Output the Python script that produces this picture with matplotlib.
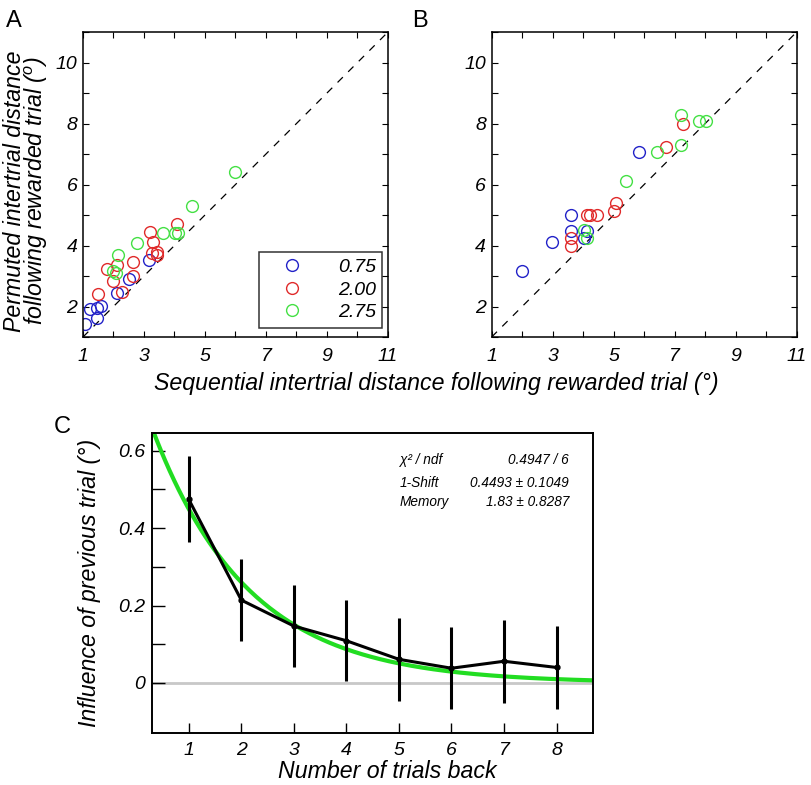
import numpy as np
import matplotlib.pyplot as plt
from matplotlib.ticker import MultipleLocator, FixedLocator

plt.rcParams['font.family'] = ['Liberation Sans', 'DejaVu Sans']
plt.rcParams['font.style'] = 'italic'
plt.rcParams['mathtext.fontset'] = 'custom'
plt.rcParams['mathtext.it'] = 'Liberation Sans:italic'
plt.rcParams['mathtext.rm'] = 'Liberation Sans:italic'

# panel A: sequential vs permuted distance, per group
a_blue_x = [1.07, 1.23, 1.47, 1.45, 1.59, 2.12, 2.51, 3.17]
a_blue_y = [1.43, 1.91, 1.63, 1.94, 2.02, 2.43, 2.90, 3.52]
a_red_x = [1.50, 1.78, 1.99, 2.12, 2.27, 2.63, 2.63, 3.20, 3.31, 3.25, 3.42, 3.44, 4.07]
a_red_y = [2.41, 3.23, 2.84, 3.36, 2.48, 3.47, 3.00, 4.43, 4.12, 3.74, 3.80, 3.69, 4.70]
a_green_x = [2.16, 1.99, 2.07, 2.76, 3.63, 4.02, 4.12, 4.58, 5.98]
a_green_y = [3.69, 3.16, 3.09, 4.07, 4.42, 4.40, 4.40, 5.30, 6.42]

# panel B
b_blue_x = [2.00, 2.99, 3.59, 3.59, 4.02, 4.12, 5.82]
b_blue_y = [3.16, 4.13, 5.01, 4.49, 4.25, 4.49, 7.08]
b_red_x = [3.59, 3.59, 4.12, 4.24, 4.46, 5.00, 5.08, 6.72, 7.28]
b_red_y = [4.25, 4.00, 5.01, 5.01, 5.01, 5.12, 5.41, 7.22, 8.00]
b_green_x = [4.02, 4.12, 5.39, 6.41, 7.21, 7.21, 7.81, 8.03]
b_green_y = [4.50, 4.25, 6.10, 7.08, 7.30, 8.28, 8.09, 8.09]

group_labels = ['0.75', '2.00', '2.75']
group_colors = ['#2222c8', '#e02a2a', '#44e044']

# panel C: influence of previous trials
trials_back = [1, 2, 3, 4, 5, 6, 7, 8]
influence = [0.474, 0.214, 0.147, 0.109, 0.061, 0.038, 0.056, 0.040]
influence_err = [0.111, 0.106, 0.105, 0.105, 0.107, 0.106, 0.107, 0.107]
fit_shift = 0.4493
fit_memory = 1.83
fit_text = [('χ² / ndf', '0.4947 / 6'),
            ('1-Shift', '0.4493 ± 0.1049'),
            ('Memory', '1.83 ± 0.8287')]

LABEL_SIZE = 16.7
TICK_SIZE = 14


def scatter_panel(ax, xs, ys, with_legend=False):
    ax.plot([1, 11], [1, 11], color='black', lw=0.9, dashes=(6, 6))
    for x, y, c, lab in zip(xs, ys, group_colors, group_labels):
        ax.plot(x, y, 'o', ms=8.5, mfc='none', mec=c, mew=1.0, ls='none', label=lab)
    ax.set_xlim(1, 11)
    ax.set_ylim(1, 11)
    ax.xaxis.set_major_locator(FixedLocator([1, 3, 5, 7, 9, 11]))
    ax.xaxis.set_minor_locator(MultipleLocator(1))
    ax.yaxis.set_major_locator(FixedLocator([2, 4, 6, 8, 10]))
    ax.yaxis.set_minor_locator(MultipleLocator(1))
    ax.tick_params(which='both', direction='in', top=True, right=True, length=4, width=0.8,
                   labelsize=TICK_SIZE)
    ax.tick_params(axis='x', pad=8)
    ax.tick_params(axis='y', pad=4)
    for s in ax.spines.values():
        s.set_linewidth(1.1)
    if with_legend:
        leg = ax.legend(loc='lower right', bbox_to_anchor=(0.982, 0.03), borderaxespad=0,
                        fontsize=TICK_SIZE, frameon=True, fancybox=False, edgecolor='black',
                        handletextpad=1.0, labelspacing=0.25, borderpad=0.35,
                        handlelength=2.7)
        leg.get_frame().set_linewidth(1.1)


def main():
    fig = plt.figure(figsize=(8.12, 7.85), dpi=100)
    ax_a = fig.add_axes([0.1022, 0.5707, 0.3756, 0.3885])
    ax_b = fig.add_axes([0.6055, 0.5707, 0.3756, 0.3885])
    ax_c = fig.add_axes([0.1872, 0.0659, 0.5435, 0.3822])

    scatter_panel(ax_a, [a_blue_x, a_red_x, a_green_x], [a_blue_y, a_red_y, a_green_y], True)
    scatter_panel(ax_b, [b_blue_x, b_red_x, b_green_x], [b_blue_y, b_red_y, b_green_y])

    fig.text(0.0325, 0.757, 'Permuted intertrial distance\nfollowing rewarded trial ($^o$)',
             rotation=90, ha='center', va='center', fontsize=LABEL_SIZE, linespacing=0.82)
    fig.text(0.5376, 0.512, 'Sequential intertrial distance following rewarded trial (°)',
             ha='center', va='center', fontsize=LABEL_SIZE)

    # panel C
    ax_c.axhline(0, color='#c8c8c8', lw=2, zorder=1)
    xf = np.linspace(0.3, 8.7, 200)
    ax_c.plot(xf, fit_shift * np.exp(-(xf - 1) / fit_memory), color='#22dd22', lw=3, zorder=2)
    ax_c.errorbar(trials_back, influence, yerr=influence_err, color='black', lw=2.2,
                  elinewidth=2.2, capsize=0, marker='o', ms=3.5, zorder=3)
    ax_c.set_xlim(0.3, 8.7)
    ax_c.set_ylim(-0.13, 0.645)
    ax_c.set_xticks(trials_back)
    ax_c.set_yticks([0, 0.2, 0.4, 0.6])
    ax_c.set_yticklabels(['0', '0.2', '0.4', '0.6'])
    ax_c.yaxis.set_minor_locator(FixedLocator([0.1, 0.3, 0.5]))
    ax_c.tick_params(axis='y', which='both', direction='in', length=9, width=1,
                     labelsize=TICK_SIZE, pad=5)
    ax_c.tick_params(axis='x', which='both', direction='in', length=7, width=1,
                     labelsize=TICK_SIZE, pad=6)
    for s in ax_c.spines.values():
        s.set_linewidth(1.4)
    ax_c.set_xlabel('Number of trials back', fontsize=LABEL_SIZE)
    ax_c.xaxis.set_label_coords(0.533, -0.09)
    ax_c.set_ylabel('Influence of previous trial (°)', fontsize=LABEL_SIZE)
    ax_c.yaxis.set_label_coords(-0.116, 0.5)

    for i, (name, val) in enumerate(fit_text):
        y = [0.911, 0.834, 0.772][i]
        ax_c.text(0.562, y, name, transform=ax_c.transAxes, fontsize=9.8, va='center', ha='left')
        ax_c.text(0.945, y, val, transform=ax_c.transAxes, fontsize=9.8, va='center', ha='right')

    for lab, x, y in [('A', 0.0172, 0.9656), ('B', 0.517, 0.9656), ('C', 0.077, 0.4484)]:
        fig.text(x, y, lab, fontsize=17, style='normal', ha='center', va='baseline')

    fig.savefig('out.png', dpi=100)


if __name__ == "__main__":
    main()
